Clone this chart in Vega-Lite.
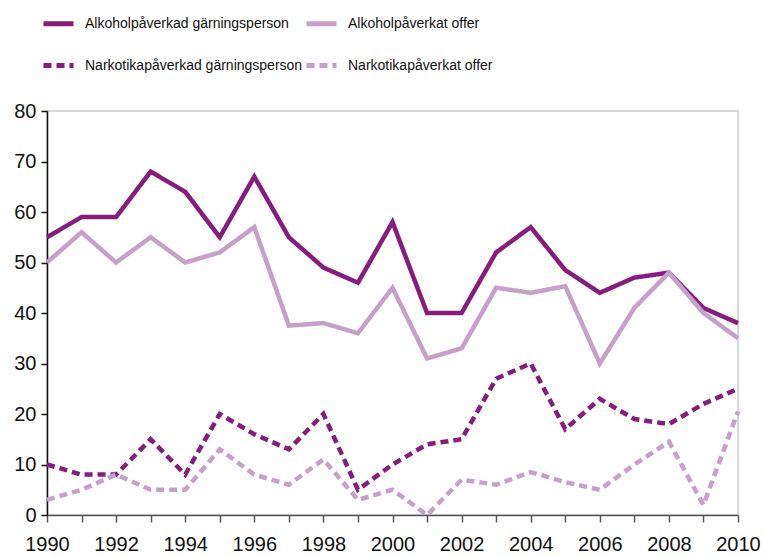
{
  "$schema": "https://vega.github.io/schema/vega-lite/v6.json",
  "autosize": {"type": "none"},
  "width": 691,
  "height": 404,
  "padding": {"left": 47, "top": 111, "right": 26, "bottom": 42},
  "background": "white",
  "config": {
    "view": {"stroke": "#c3cbd2", "strokeWidth": 1.5},
    "font": "Liberation Sans"
  },
  "datasets": {
    "d": [
      {"year": 1990, "s": "Alkoholpåverkad gärningsperson", "v": 55},
      {"year": 1991, "s": "Alkoholpåverkad gärningsperson", "v": 59},
      {"year": 1992, "s": "Alkoholpåverkad gärningsperson", "v": 59},
      {"year": 1993, "s": "Alkoholpåverkad gärningsperson", "v": 68},
      {"year": 1994, "s": "Alkoholpåverkad gärningsperson", "v": 64},
      {"year": 1995, "s": "Alkoholpåverkad gärningsperson", "v": 55},
      {"year": 1996, "s": "Alkoholpåverkad gärningsperson", "v": 67},
      {"year": 1997, "s": "Alkoholpåverkad gärningsperson", "v": 55},
      {"year": 1998, "s": "Alkoholpåverkad gärningsperson", "v": 49},
      {"year": 1999, "s": "Alkoholpåverkad gärningsperson", "v": 46},
      {"year": 2000, "s": "Alkoholpåverkad gärningsperson", "v": 58},
      {"year": 2001, "s": "Alkoholpåverkad gärningsperson", "v": 40},
      {"year": 2002, "s": "Alkoholpåverkad gärningsperson", "v": 40},
      {"year": 2003, "s": "Alkoholpåverkad gärningsperson", "v": 52},
      {"year": 2004, "s": "Alkoholpåverkad gärningsperson", "v": 57},
      {"year": 2005, "s": "Alkoholpåverkad gärningsperson", "v": 48.5},
      {"year": 2006, "s": "Alkoholpåverkad gärningsperson", "v": 44},
      {"year": 2007, "s": "Alkoholpåverkad gärningsperson", "v": 47},
      {"year": 2008, "s": "Alkoholpåverkad gärningsperson", "v": 48},
      {"year": 2009, "s": "Alkoholpåverkad gärningsperson", "v": 41},
      {"year": 2010, "s": "Alkoholpåverkad gärningsperson", "v": 38},
      {"year": 1990, "s": "Alkoholpåverkat offer", "v": 50},
      {"year": 1991, "s": "Alkoholpåverkat offer", "v": 56},
      {"year": 1992, "s": "Alkoholpåverkat offer", "v": 50},
      {"year": 1993, "s": "Alkoholpåverkat offer", "v": 55},
      {"year": 1994, "s": "Alkoholpåverkat offer", "v": 50},
      {"year": 1995, "s": "Alkoholpåverkat offer", "v": 52},
      {"year": 1996, "s": "Alkoholpåverkat offer", "v": 57},
      {"year": 1997, "s": "Alkoholpåverkat offer", "v": 37.5},
      {"year": 1998, "s": "Alkoholpåverkat offer", "v": 38},
      {"year": 1999, "s": "Alkoholpåverkat offer", "v": 36},
      {"year": 2000, "s": "Alkoholpåverkat offer", "v": 45},
      {"year": 2001, "s": "Alkoholpåverkat offer", "v": 31},
      {"year": 2002, "s": "Alkoholpåverkat offer", "v": 33},
      {"year": 2003, "s": "Alkoholpåverkat offer", "v": 45},
      {"year": 2004, "s": "Alkoholpåverkat offer", "v": 44},
      {"year": 2005, "s": "Alkoholpåverkat offer", "v": 45.3},
      {"year": 2006, "s": "Alkoholpåverkat offer", "v": 30},
      {"year": 2007, "s": "Alkoholpåverkat offer", "v": 41},
      {"year": 2008, "s": "Alkoholpåverkat offer", "v": 48},
      {"year": 2009, "s": "Alkoholpåverkat offer", "v": 40},
      {"year": 2010, "s": "Alkoholpåverkat offer", "v": 35},
      {"year": 1990, "s": "Narkotikapåverkad gärningsperson", "v": 10},
      {"year": 1991, "s": "Narkotikapåverkad gärningsperson", "v": 8},
      {"year": 1992, "s": "Narkotikapåverkad gärningsperson", "v": 8},
      {"year": 1993, "s": "Narkotikapåverkad gärningsperson", "v": 15},
      {"year": 1994, "s": "Narkotikapåverkad gärningsperson", "v": 8},
      {"year": 1995, "s": "Narkotikapåverkad gärningsperson", "v": 20},
      {"year": 1996, "s": "Narkotikapåverkad gärningsperson", "v": 16},
      {"year": 1997, "s": "Narkotikapåverkad gärningsperson", "v": 13},
      {"year": 1998, "s": "Narkotikapåverkad gärningsperson", "v": 20},
      {"year": 1999, "s": "Narkotikapåverkad gärningsperson", "v": 5},
      {"year": 2000, "s": "Narkotikapåverkad gärningsperson", "v": 10},
      {"year": 2001, "s": "Narkotikapåverkad gärningsperson", "v": 14},
      {"year": 2002, "s": "Narkotikapåverkad gärningsperson", "v": 15},
      {"year": 2003, "s": "Narkotikapåverkad gärningsperson", "v": 27},
      {"year": 2004, "s": "Narkotikapåverkad gärningsperson", "v": 30},
      {"year": 2005, "s": "Narkotikapåverkad gärningsperson", "v": 17},
      {"year": 2006, "s": "Narkotikapåverkad gärningsperson", "v": 23},
      {"year": 2007, "s": "Narkotikapåverkad gärningsperson", "v": 19},
      {"year": 2008, "s": "Narkotikapåverkad gärningsperson", "v": 18},
      {"year": 2009, "s": "Narkotikapåverkad gärningsperson", "v": 22},
      {"year": 2010, "s": "Narkotikapåverkad gärningsperson", "v": 25},
      {"year": 1990, "s": "Narkotikapåverkat offer", "v": 3},
      {"year": 1991, "s": "Narkotikapåverkat offer", "v": 5},
      {"year": 1992, "s": "Narkotikapåverkat offer", "v": 8},
      {"year": 1993, "s": "Narkotikapåverkat offer", "v": 5},
      {"year": 1994, "s": "Narkotikapåverkat offer", "v": 5},
      {"year": 1995, "s": "Narkotikapåverkat offer", "v": 13},
      {"year": 1996, "s": "Narkotikapåverkat offer", "v": 8},
      {"year": 1997, "s": "Narkotikapåverkat offer", "v": 6},
      {"year": 1998, "s": "Narkotikapåverkat offer", "v": 11},
      {"year": 1999, "s": "Narkotikapåverkat offer", "v": 3},
      {"year": 2000, "s": "Narkotikapåverkat offer", "v": 5},
      {"year": 2001, "s": "Narkotikapåverkat offer", "v": 0},
      {"year": 2002, "s": "Narkotikapåverkat offer", "v": 7},
      {"year": 2003, "s": "Narkotikapåverkat offer", "v": 6},
      {"year": 2004, "s": "Narkotikapåverkat offer", "v": 8.5},
      {"year": 2005, "s": "Narkotikapåverkat offer", "v": 6.5},
      {"year": 2006, "s": "Narkotikapåverkat offer", "v": 5},
      {"year": 2007, "s": "Narkotikapåverkat offer", "v": 10},
      {"year": 2008, "s": "Narkotikapåverkat offer", "v": 14.5},
      {"year": 2009, "s": "Narkotikapåverkat offer", "v": 2},
      {"year": 2010, "s": "Narkotikapåverkat offer", "v": 20.5}
    ]
  },
  "data": {"name": "d"},
  "mark": {"type": "line", "strokeWidth": 4.5, "strokeJoin": "miter", "strokeCap": "butt", "clip": false},
  "encoding": {
    "x": {
      "field": "year", "type": "quantitative",
      "scale": {"domain": [1990, 2010], "nice": false, "zero": false},
      "axis": {
        "title": null,
        "values": [1990,1991,1992,1993,1994,1995,1996,1997,1998,1999,2000,2001,2002,2003,2004,2005,2006,2007,2008,2009,2010],
        "labelExpr": "datum.value % 2 == 0 ? format(datum.value, 'd') : ''",
        "grid": false,
        "domainColor": "#555555", "domainWidth": 1.5,
        "tickColor": "#555555", "tickWidth": 1.5, "tickSize": 7,
        "labelFont": "Liberation Sans", "labelFontSize": 20, "labelColor": "#111111",
        "labelPadding": 12, "labelFlush": false, "labelOverlap": false
      }
    },
    "y": {
      "field": "v", "type": "quantitative",
      "scale": {"domain": [0, 80], "nice": false},
      "axis": {
        "title": null,
        "values": [0,10,20,30,40,50,60,70,80],
        "grid": false,
        "domainColor": "#111111", "domainWidth": 1.5,
        "tickColor": "#111111", "tickWidth": 1.5, "tickSize": 6,
        "labelFont": "Liberation Sans", "labelFontSize": 20, "labelColor": "#111111",
        "labelPadding": 5
      }
    },
    "color": {
      "field": "s", "type": "nominal",
      "scale": {
        "domain": ["Alkoholpåverkad gärningsperson", "Alkoholpåverkat offer", "Narkotikapåverkad gärningsperson", "Narkotikapåverkat offer"],
        "range": ["#851c7e", "#c6a0c9", "#851c7e", "#c6a0c9"]
      },
      "legend": {
        "title": null,
        "orient": "none", "legendX": -6, "legendY": -105,
        "columns": 2, "direction": "horizontal",
        "symbolType": "stroke", "symbolSize": 900, "symbolStrokeWidth": 5,
        "labelFont": "Liberation Sans", "labelFontSize": 14, "labelColor": "#111111", "labelLimit": 0,
        "labelOffset": 9, "rowPadding": 14, "columnPadding": -7
      }
    },
    "strokeDash": {
      "field": "s", "type": "nominal",
      "scale": {
        "domain": ["Alkoholpåverkad gärningsperson", "Alkoholpåverkat offer", "Narkotikapåverkad gärningsperson", "Narkotikapåverkat offer"],
        "range": [[1, 0], [1, 0], [8, 5], [8, 5]]
      },
      "legend": {
        "title": null,
        "orient": "none", "legendX": -6, "legendY": -105,
        "columns": 2, "direction": "horizontal",
        "symbolType": "stroke", "symbolSize": 900, "symbolStrokeWidth": 5,
        "labelFont": "Liberation Sans", "labelFontSize": 14, "labelColor": "#111111", "labelLimit": 0,
        "labelOffset": 9, "rowPadding": 14, "columnPadding": -7
      }
    }
  }
}
